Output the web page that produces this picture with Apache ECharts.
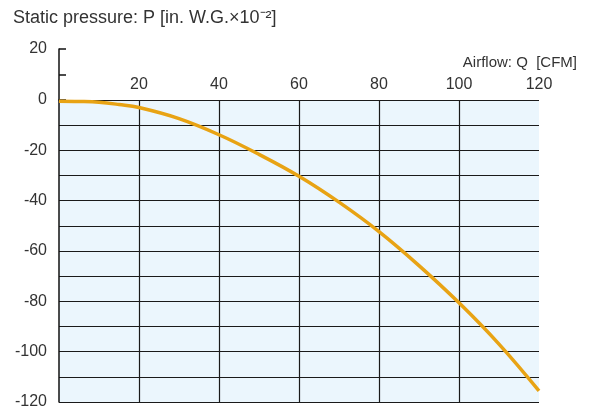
<!DOCTYPE html>
<html>
<head>
<meta charset="utf-8">
<script src="https://cdn.jsdelivr.net/npm/echarts@6/dist/echarts.min.js"></script>
<style>html,body{margin:0;padding:0;background:#fff;}#c{width:592px;height:410px;}</style>
</head>
<body>
<div id="c"></div>
<script>
const titleText = 'Static pressure: P [in. W.G.×10⁻²]';
const xName = 'Airflow: Q  [CFM]';
const airflow = [0, 5, 10, 15, 20, 30, 40, 50, 60, 70, 80, 90, 100, 110, 120];
const pressure = [-0.5, -0.6, -0.9, -1.8, -3.0, -7.4, -13.8, -21.6, -30.3, -40.6, -52.3, -65.8, -80.6, -97.0, -115.6];
const xTicks = [0, 20, 40, 60, 80, 100, 120];
const yTicks = [-120, -100, -80, -60, -40, -20, 0, 20];

const font = 'Liberation Sans, Arial, Helvetica, sans-serif';
const txt = '#333';
const chart = echarts.init(document.getElementById('c'), null, {renderer: 'canvas'});
chart.setOption({
  animation: false,
  backgroundColor: '#fff',
  title: [
    {text: titleText, left: 8, top: 4, textStyle: {fontFamily: font, fontSize: 18, fontWeight: 'normal', color: txt}},
    {text: xName, right: 10, top: 50, textStyle: {fontFamily: font, fontSize: 15, fontWeight: 'normal', color: txt}}
  ],
  grid: [
    {left: 59, top: 100, width: 480, height: 307, show: true, backgroundColor: '#ebf6fd', borderWidth: 0},
    {left: 59, top: 49, width: 480, height: 51, show: false}
  ],
  xAxis: [
    {type: 'value', gridIndex: 0, position: 'top', min: xTicks[0], max: xTicks[xTicks.length - 1], interval: 20,
     axisLine: {show: false}, axisTick: {show: false},
     axisLabel: {margin: 7, fontFamily: font, fontSize: 16, color: txt,
       formatter: v => (v === 0 ? '' : String(v))},
     splitLine: {show: true, showMinLine: false, showMaxLine: false, lineStyle: {color: '#1a1a1a', width: 1.2}}},
    {type: 'value', gridIndex: 1, min: 0, max: 120, show: false}
  ],
  yAxis: [
    {type: 'value', gridIndex: 0, min: yTicks[0], max: 0, interval: 10,
     axisLine: {show: true, lineStyle: {color: '#111', width: 1.5}}, axisTick: {show: false},
     axisLabel: {margin: 12, fontFamily: font, fontSize: 16, color: txt,
       formatter: v => (yTicks.indexOf(v) >= 0 ? String(v) : '')},
     splitLine: {show: true, lineStyle: {color: '#1a1a1a', width: 1.2}}},
    {type: 'value', gridIndex: 1, min: 0, max: yTicks[yTicks.length - 1], interval: 10,
     axisLine: {show: true, lineStyle: {color: '#111', width: 1.5}},
     axisTick: {show: true, inside: true, length: 7, lineStyle: {color: '#111', width: 1.5}},
     axisLabel: {margin: 12, fontFamily: font, fontSize: 16, color: txt,
       formatter: v => (v === 20 ? String(v) : '')},
     splitLine: {show: false}}
  ],
  series: [{
    type: 'line', xAxisIndex: 0, yAxisIndex: 0,
    data: airflow.map((q, i) => [q, pressure[i]]),
    smooth: 0.4, symbol: 'none',
    lineStyle: {color: '#e8a314', width: 3.5}
  }]
});
</script>
</body>
</html>
